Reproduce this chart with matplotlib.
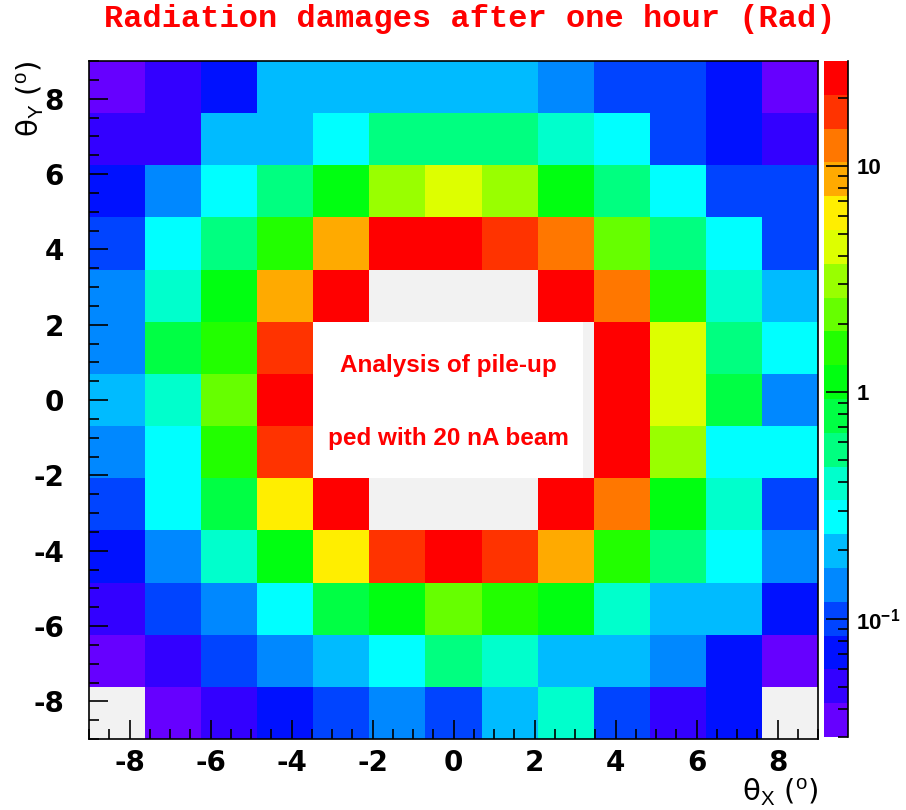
import numpy as np
import matplotlib
matplotlib.use('Agg')
import matplotlib.pyplot as plt
from matplotlib.colors import ListedColormap, LogNorm
from matplotlib.patches import Rectangle

# --- Data: radiation dose per cell (Rad), rows listed from top (theta_Y = +9) to bottom ---
x_edges = np.linspace(-9, 9, 14)
y_edges = np.linspace(-9, 9, 14)

dose_rows_top_to_bottom = [
    [0.036, 0.050, 0.071, 0.20, 0.20, 0.20, 0.20, 0.20, 0.14, 0.10, 0.10, 0.071, 0.036],
    [0.050, 0.050, 0.20, 0.20, 0.28, 0.56, 0.56, 0.56, 0.40, 0.28, 0.10, 0.071, 0.050],
    [0.071, 0.14, 0.28, 0.56, 1.1, 3.1, 4.4, 3.1, 1.1, 0.56, 0.28, 0.10, 0.10],
    [0.10, 0.28, 0.56, 1.55, 8.7, 24.4, 24.4, 17.3, 12.3, 2.2, 0.56, 0.28, 0.10],
    [0.14, 0.40, 1.1, 8.7, 24.4, 0, 0, 0, 24.4, 12.3, 1.55, 0.40, 0.20],
    [0.14, 0.78, 1.55, 17.3, 0, 0, 0, 0, 0, 24.4, 4.4, 0.56, 0.28],
    [0.20, 0.40, 2.2, 24.4, 0, 0, 0, 0, 0, 24.4, 4.4, 0.78, 0.14],
    [0.14, 0.28, 1.55, 17.3, 0, 0, 0, 0, 0, 24.4, 3.1, 0.28, 0.28],
    [0.10, 0.28, 0.78, 6.2, 24.4, 0, 0, 0, 24.4, 12.3, 1.1, 0.40, 0.10],
    [0.071, 0.14, 0.40, 1.1, 6.2, 17.3, 24.4, 17.3, 8.7, 1.55, 0.56, 0.28, 0.14],
    [0.050, 0.10, 0.14, 0.28, 0.78, 1.1, 2.2, 1.55, 1.1, 0.40, 0.20, 0.20, 0.071],
    [0.036, 0.050, 0.10, 0.14, 0.20, 0.28, 0.56, 0.40, 0.20, 0.20, 0.14, 0.071, 0.036],
    [0, 0.036, 0.050, 0.071, 0.10, 0.14, 0.10, 0.20, 0.40, 0.10, 0.050, 0.071, 0],
]

z_min, z_max = 0.03, 29.0
x_ticks = [-8, -6, -4, -2, 0, 2, 4, 6, 8]
cbar_ticks = [0.1, 1, 10]
cbar_labels = [r'$\mathbf{10^{-1}}$', '1', '10']
note_lines = ['Analysis of pile-up', 'ped with 20 nA beam']
title = 'Radiation damages after one hour (Rad)'

# ROOT-like 20 level palette (violet -> red)
palette = ['#6600ff', '#3300ff', '#0011ff', '#0044ff', '#0088ff', '#00bbff',
           '#00ffff', '#00ffcc', '#00ff80', '#00ff44', '#00ff11', '#22ff00',
           '#66ff00', '#99ff00', '#ddff00', '#ffee00', '#ffaa00', '#ff7700',
           '#ff3300', '#ff0000']

plt.rcParams['axes.unicode_minus'] = False
plt.rcParams['mathtext.fontset'] = 'custom'
plt.rcParams['mathtext.rm'] = 'Liberation Sans'
plt.rcParams['mathtext.bf'] = 'Liberation Sans:bold'

fig = plt.figure(figsize=(9.06, 8.10), dpi=100)
ax = fig.add_axes([89 / 906, 1 - 739 / 810, 729 / 906, 678 / 810])
cax = fig.add_axes([824 / 906, 1 - 737 / 810, 24 / 906, 676 / 810])

z = np.array(dose_rows_top_to_bottom)[::-1]
z = np.ma.masked_less_equal(z, 0)

cmap = ListedColormap(palette)
norm = LogNorm(vmin=z_min, vmax=z_max)
ax.set_facecolor('#f2f2f2')
mesh = ax.pcolormesh(x_edges, y_edges, z, cmap=cmap, norm=norm)

# white annotation pave over the empty centre
ax.add_patch(Rectangle((-3.46, -2.08), 6.66, 4.16, facecolor='white', edgecolor='none', zorder=3))
ax.text(-0.13, 0.74, note_lines[0], ha='center', va='baseline', color='red',
        family='Liberation Sans', weight='bold', fontsize=17.5, zorder=4)
ax.text(-0.13, -1.19, note_lines[1], ha='center', va='baseline', color='red',
        family='Liberation Sans', weight='bold', fontsize=17.5, zorder=4)

ax.set_xlim(-9, 9)
ax.set_ylim(-9, 9)
ax.set_xticks(x_ticks)
ax.set_yticks(x_ticks)
ax.set_xticks(np.arange(-9, 9.01, 0.5), minor=True)
ax.set_yticks(np.arange(-9, 9.01, 0.5), minor=True)
ax.tick_params(which='both', direction='in', top=False, right=False, width=1.2)
ax.tick_params(which='major', length=14)
ax.tick_params(which='minor', length=7)
ax.tick_params(axis='x', which='major', pad=7)
ax.tick_params(axis='y', which='major', pad=18)
for lab in ax.get_xticklabels() + ax.get_yticklabels():
    lab.set_fontweight('bold')
    lab.set_fontsize(20)
for s in ax.spines.values():
    s.set_linewidth(1.2)

# colour scale
cbar = fig.colorbar(mesh, cax=cax)
cbar.outline.set_visible(False)
cax.plot([1, 1], [0, 1], transform=cax.transAxes, color='black', lw=1.2, clip_on=False)
minors = [k * 10.0 ** e for e in range(-2, 2) for k in range(2, 10) if z_min <= k * 10.0 ** e <= z_max]
cax.yaxis.set_major_locator(matplotlib.ticker.FixedLocator(cbar_ticks))
cax.yaxis.set_minor_locator(matplotlib.ticker.FixedLocator(minors))
cax.yaxis.set_major_formatter(matplotlib.ticker.FixedFormatter(cbar_labels))
cax.yaxis.set_minor_formatter(matplotlib.ticker.NullFormatter())
cax.tick_params(which='both', direction='in', right=True, left=False, width=1.2)
cax.tick_params(which='major', length=16, pad=6, labelsize=16)
cax.tick_params(which='minor', length=7)
for lab in cax.get_yticklabels():
    lab.set_fontweight('bold')
    lab.set_family('Liberation Sans')

# axis titles
fig.text(818 / 906, 1 - 792 / 810, 'θ$_{\\mathrm{X}}$ ($^{\\mathrm{o}}$)', ha='right', va='center', fontsize=21)
fig.text(30 / 906, 1 - 61 / 810, 'θ$_{\\mathrm{Y}}$ ($^{\\mathrm{o}}$)', ha='center', va='top',
         rotation=90, fontsize=21)

fig.text(470 / 906, 1 - 19 / 810, title, ha='center', va='center', color='red',
         family='Liberation Mono', weight='bold', fontsize=23)

fig.savefig('out.png', dpi=100)
